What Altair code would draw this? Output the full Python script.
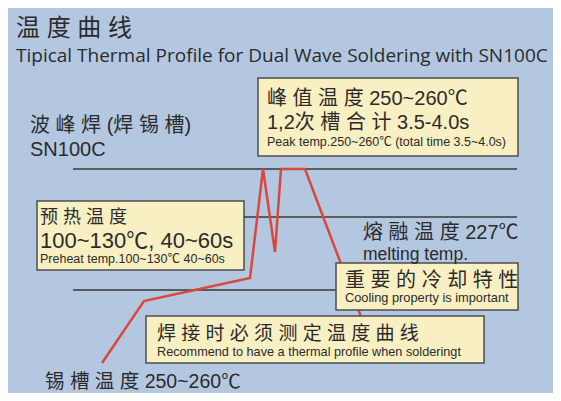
import altair as alt
import pandas as pd

# ---- data (page-pixel units of the diagram) ----
profile_time = [102, 144, 250, 263, 275, 281, 305, 368]
profile_level = [363, 301, 278, 169, 252, 169, 169, 335]

level_lines_y = [169, 217, 290]
level_lines_x0 = [73, 73, 73]
level_lines_x1 = [517, 517, 517]

box_x0 = [258, 37, 336, 146]
box_x1 = [518, 244, 518, 484]
box_y0 = [78, 201, 263, 316]
box_y1 = [156, 270, 310, 363]

label_text = [
    "温 度 曲 线",
    "波 峰 焊 (焊 锡 槽)",
    "SN100C",
    "峰 值 温 度 250~260℃",
    "1,2次 槽 合 计 3.5-4.0s",
    "Peak temp.250~260℃ (total time 3.5~4.0s)",
    "预 热 温 度",
    "100~130℃, 40~60s",
    "Preheat temp.100~130℃ 40~60s",
    "熔 融 温 度 227℃",
    "melting temp.",
    "重 要 的 冷 却 特 性",
    "Cooling property is important",
    "焊 接 时 必 须 测 定 温 度 曲 线",
    "Recommend to have a thermal profile when solderingt",
    "锡 槽 温 度 250~260℃",
]
label_x = [16, 30, 30, 267, 267, 267, 40, 40, 40, 363, 363, 345, 345, 157, 157, 45]
label_y = [36, 132, 156, 105, 129, 146, 223, 248, 263, 239, 260, 287, 302, 340, 356, 388]
label_size = [24, 20, 20, 20, 20, 12.5, 18, 22, 12.5, 20, 17.5, 20, 12.8, 19, 12.7, 19.5]

subtitle_text = ["Tipical Thermal Profile for Dual Wave Soldering with SN100C"]
subtitle_x = [16]
subtitle_y = [62]

# ---- tables ----
profile = pd.DataFrame({"t": profile_time, "v": profile_level, "i": range(len(profile_time))})
levels = pd.DataFrame({"y": level_lines_y, "x0": level_lines_x0, "x1": level_lines_x1})
boxes = pd.DataFrame({"x0": box_x0, "x1": box_x1, "y0": box_y0, "y1": box_y1})
labels = pd.DataFrame({"text": label_text, "x": label_x, "y": label_y, "s": label_size})
subtitle = pd.DataFrame({"text": subtitle_text, "x": subtitle_x, "y": subtitle_y})

W, H = 545, 385
xs = alt.Scale(domain=[8, 553], nice=False, zero=False)
ys = alt.Scale(domain=[393, 8], nice=False, zero=False)
noax = None

rules = alt.Chart(levels).mark_rule(color="#3a3a3a", strokeWidth=1.6).encode(
    x=alt.X("x0:Q", scale=xs, axis=noax),
    x2="x1:Q",
    y=alt.Y("y:Q", scale=ys, axis=noax),
)

line = alt.Chart(profile).mark_line(color="#d9483b", strokeWidth=2.5).encode(
    x=alt.X("t:Q", scale=xs, axis=noax),
    y=alt.Y("v:Q", scale=ys, axis=noax),
    order=alt.Order("i:Q"),
)

rects = alt.Chart(boxes).mark_rect(fill="#f8efc2", stroke="#4e4e4e", strokeWidth=1.5).encode(
    x=alt.X("x0:Q", scale=xs, axis=noax),
    x2="x1:Q",
    y=alt.Y("y0:Q", scale=ys, axis=noax),
    y2="y1:Q",
)

texts = alt.Chart(labels).mark_text(
    align="left", baseline="alphabetic", color="#2b2b2b",
    font="Liberation Sans, Noto Sans CJK SC",
).encode(
    x=alt.X("x:Q", scale=xs, axis=noax),
    y=alt.Y("y:Q", scale=ys, axis=noax),
    text="text:N",
    size=alt.Size("s:Q", scale=None, legend=None),
)

sub = alt.Chart(subtitle).mark_text(
    align="left", baseline="alphabetic", color="#2b2b2b",
    font="Open Sans", fontSize=19.0,
).encode(
    x=alt.X("x:Q", scale=xs, axis=noax),
    y=alt.Y("y:Q", scale=ys, axis=noax),
    text="text:N",
)

chart = alt.layer(rules, line, rects, texts, sub).properties(
    width=W, height=H, background="#b3c7e1", padding=0,
    autosize=alt.AutoSizeParams(type="none"),
).configure_view(strokeWidth=0)

chart.save("out.html", embed_options={"renderer": "svg", "actions": False})
